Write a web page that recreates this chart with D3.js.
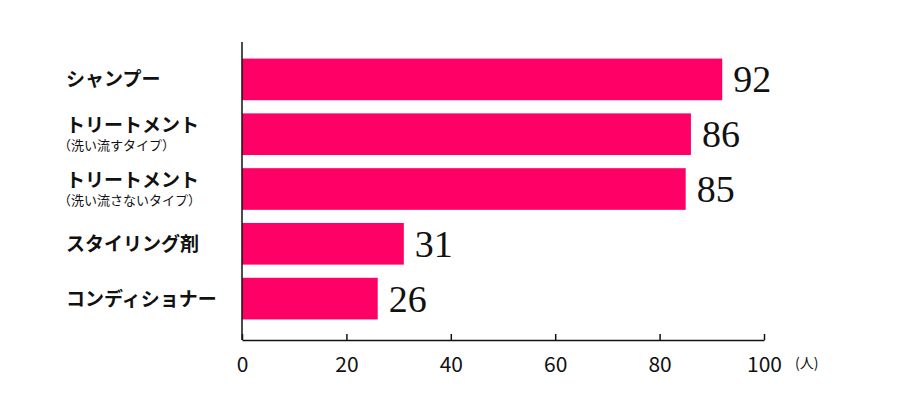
<!DOCTYPE html>
<html><head><meta charset="utf-8">
<script src="https://cdn.jsdelivr.net/npm/d3@7"></script>
<style>body{margin:0;background:#fff}</style>
</head><body>
<svg id="chart" width="904" height="409"></svg>
<script>
// data
var labels = [["シャンプー"], ["トリートメント", "（洗い流すタイプ）"], ["トリートメント", "（洗い流さないタイプ）"], ["スタイリング剤"], ["コンディショナー"]]
var values = [92, 86, 85, 31, 26]
var ticks = [0, 20, 40, 60, 80, 100]

var svg = d3.select("#chart")
var sans = "'Noto Sans CJK JP', sans-serif"

var x = d3.scaleLinear().domain([0, 100]).range([242, 764])
var y = d3.scaleBand().domain(d3.range(values.length)).range([52, 326]).paddingInner(0.24).paddingOuter(0.12)

// bars
svg.selectAll("rect.bar")
  .data(values)
  .enter()
  .append("rect")
  .attr("class", "bar")
  .attr("x", x(0))
  .attr("y", function (d, i) { return y(i) })
  .attr("width", function (d) { return x(d) - x(0) })
  .attr("height", y.bandwidth())
  .attr("fill", "#ff0066")

// value labels
svg.selectAll("text.val")
  .data(values)
  .enter()
  .append("text")
  .attr("x", function (d) { return x(d) + 11 })
  .attr("y", function (d, i) { return y(i) + y.bandwidth() / 2 + 13 })
  .attr("font-family", "'Liberation Serif', serif")
  .attr("font-size", 38)
  .attr("fill", "#111")
  .text(function (d) { return d })

// category labels
labels.forEach(function (lines, i) {
  var cy = y(i) + y.bandwidth() / 2
  if (lines.length === 1) {
    svg.append("text").attr("x", 66).attr("y", cy + 7)
      .attr("font-family", sans).attr("font-size", 19).attr("font-weight", "bold")
      .attr("fill", "#111").text(lines[0])
  } else {
    svg.append("text").attr("x", 66).attr("y", cy - 2)
      .attr("font-family", sans).attr("font-size", 19).attr("font-weight", "bold")
      .attr("fill", "#111").text(lines[0])
    svg.append("text").attr("x", 58).attr("y", cy + 16)
      .attr("font-family", sans).attr("font-size", 13)
      .attr("fill", "#111").text(lines[1])
  }
})

// axes
svg.append("line").attr("x1", 242).attr("x2", 242).attr("y1", 42).attr("y2", 340)
  .attr("stroke", "#111").attr("stroke-width", 1.5)

var xAxis = svg.append("g")
  .attr("transform", "translate(0, 340)")
  .call(d3.axisBottom(x).tickValues(ticks).tickSize(6).tickSizeOuter(0))
xAxis.select(".domain").attr("stroke", "#111").attr("stroke-width", 1.5)
xAxis.selectAll(".tick line").attr("stroke", "#111").attr("stroke-width", 1.5).attr("y1", -6).attr("y2", 0)
xAxis.selectAll("text").attr("font-family", sans).attr("font-size", 21).attr("fill", "#111").attr("dy", "1.1em")

svg.append("text").attr("x", 795).attr("y", 368)
  .attr("font-family", sans).attr("font-size", 14).attr("fill", "#111").text("(人)")
</script>
</body></html>
